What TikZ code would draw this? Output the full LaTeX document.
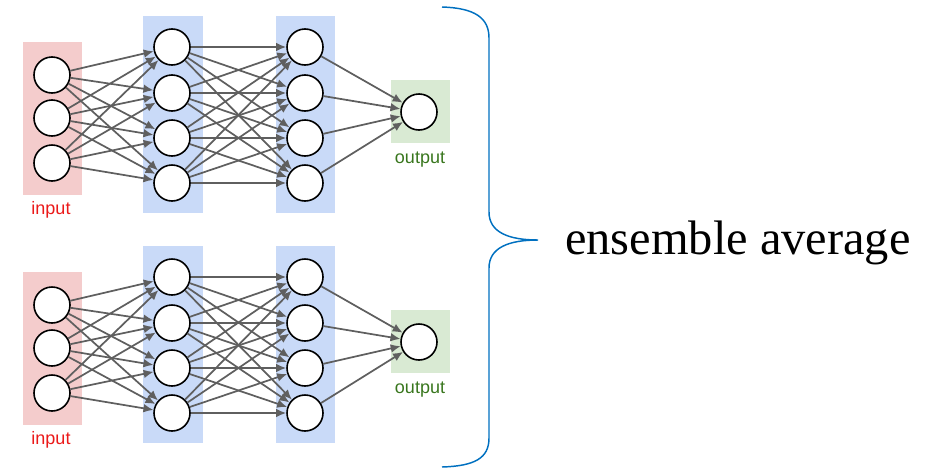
\documentclass[tikz,border=0pt]{standalone}
\usepackage{fontspec}
\setmainfont{Liberation Serif}
\newfontfamily\labelfont{Liberation Sans}
\usetikzlibrary{arrows.meta}
\definecolor{inpink}{RGB}{244,204,204}
\definecolor{hidblue}{RGB}{201,218,248}
\definecolor{outgreen}{RGB}{217,234,211}
\definecolor{inred}{RGB}{235,25,25}
\definecolor{outtext}{RGB}{56,118,29}
\definecolor{bracecol}{RGB}{0,112,192}
\definecolor{wire}{RGB}{95,95,95}

\tikzset{
  neuron/.style={circle, draw, line width=1.2pt, fill=white, minimum size=27pt, inner sep=0pt},
  link/.style={draw=wire, line width=1.3pt, -{Latex[length=7.5pt,width=6.5pt]}},
  lbl/.style={font=\labelfont\fontsize{13.5}{15}\selectfont, inner sep=0pt}
}

\begin{document}
\begin{tikzpicture}[x=0.75pt,y=-0.75pt]
\useasboundingbox (0,0) rectangle (930,475);
% two identical networks
\foreach \n/\dy in {t/0,b/230}{
  \begin{scope}[shift={(0,\dy)}]
    \fill[inpink] (23,42) rectangle (82,195);
    \fill[hidblue] (143,16) rectangle (203,213);
    \fill[hidblue] (276,16) rectangle (335,213);
    \fill[outgreen] (391,80) rectangle (450,143);
    \foreach \i/\y in {1/75,2/118,3/163}
      \node[neuron] (\n-i\i) at (52,\y) {};
    \foreach \j/\y in {1/47,2/93,3/138,4/183}{
      \node[neuron] (\n-h\j) at (172,\y) {};
      \node[neuron] (\n-g\j) at (305,\y) {};
    }
    \node[neuron] (\n-o) at (419,112) {};
    \node[lbl, text=inred] (\n-inlbl) at (51,210) {input};
    \node[lbl, text=outtext] (\n-outlbl) at (420,160) {output};
    % connections
    \foreach \i in {1,2,3}
      \foreach \j in {1,...,4}
        \draw[link] (\n-i\i) -- (\n-h\j);
    \foreach \i in {1,...,4}
      \foreach \j in {1,...,4}
        \draw[link] (\n-h\i) -- (\n-g\j);
    \foreach \j in {1,...,4}
      \draw[link] (\n-g\j) -- (\n-o);
  \end{scope}
}
% brace
\coordinate (tip) at (538,240);
\draw[bracecol, line width=1.1pt] (442,7) .. controls (475,8) and (489,18) .. (489,38)
  -- (489,212) .. controls (489,232) and (508,240) .. (tip)
  .. controls (508,240) and (489,248) .. (489,268)
  -- (489,438) .. controls (489,458) and (475,466) .. (442,467);
\node[anchor=base west, inner sep=0pt, font=\fontsize{36.3}{40}\selectfont] (avg) at (565,254) {ensemble average};
\end{tikzpicture}
\end{document}
